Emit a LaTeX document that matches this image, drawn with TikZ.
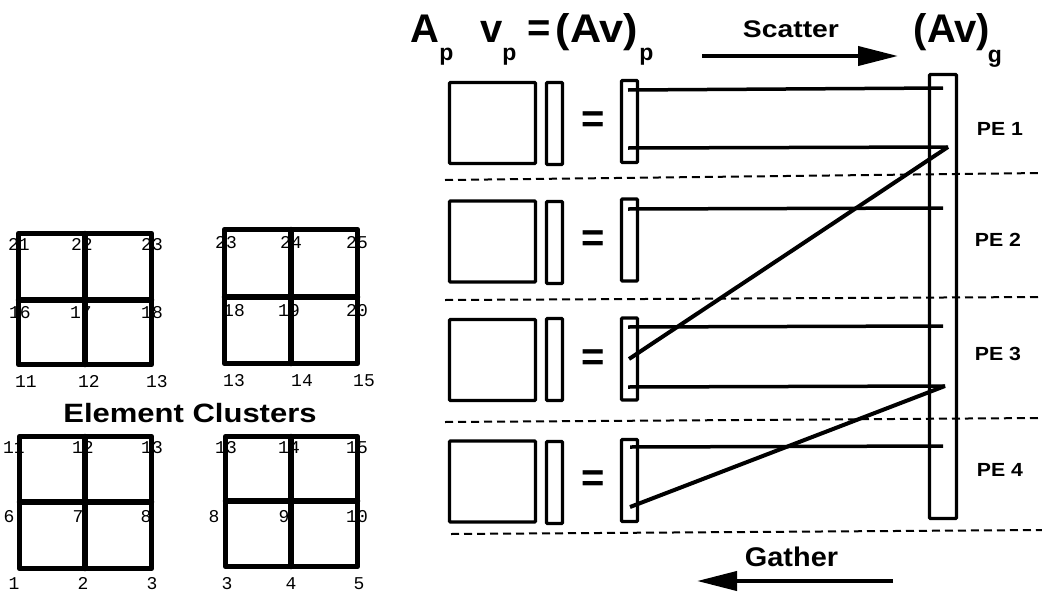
\documentclass[tikz,border=0pt]{standalone}
\usepackage{fontspec}
\usepackage{graphicx}
\setmainfont{Liberation Sans}
\newfontfamily\gridmono{Liberation Mono}
\usetikzlibrary{arrows.meta}
\begin{document}
\begin{tikzpicture}[x=1pt,y=-1pt,
  gridline/.style={line width=5.5pt, line join=round, line cap=round},
  lab/.style={font=\gridmono\fontsize{18}{18}\selectfont, inner sep=0pt, anchor=base},
  box/.style={draw, line width=3.2pt, inner sep=0pt, rounded corners=0.8pt},
  sqbox/.style={box, minimum width=86pt, minimum height=81pt},
  vbox/.style={box, minimum width=16pt, minimum height=82pt},
  conn/.style={line width=3.5pt},
  sepline/.style={line width=2pt, dash pattern=on 8pt off 5pt},
  big/.style={font=\bfseries\fontsize{40}{40}\selectfont, inner sep=0pt},
  subs/.style={font=\bfseries\fontsize{23}{23}\selectfont, inner sep=0pt},
  pe/.style={font=\bfseries\fontsize{19}{19}\selectfont, inner sep=0pt},
  bigarrow/.style={line width=4pt, -{Triangle[length=40pt,width=19pt]}}]
\useasboundingbox[fill=white] (0,0) rectangle (1042,592);

% ---------- element clusters: labels (base lines) ----------
\foreach \t/\x/\y [count=\i] in {21/19/250.5,22/82/250.5,23/152/250.5,16/20/318.5,17/81/318.5,18/152/318.5,11/26/387.5,12/89/387.5,13/157/387.5}
  \node[lab] (tl\i) at (\x,\y) {\t};
\foreach \t/\x/\y [count=\i] in {23/226/248.5,24/291/248.5,25/357/248.5,18/234/316.5,19/289/316.5,20/357/316.5,13/234/386.5,14/302/386.5,15/364/386.5}
  \node[lab] (tr\i) at (\x,\y) {\t};
\foreach \t/\x/\y [count=\i] in {11/14/453.5,12/83/453.5,13/152/453.5,6/9/522.5,7/78/522.5,8/146/522.5,1/14/589.5,2/83/589.5,3/152/589.5}
  \node[lab] (bl\i) at (\x,\y) {\t};
\foreach \t/\x/\y [count=\i] in {13/226/453.5,14/289/453.5,15/357/453.5,8/214/522.5,9/284/522.5,10/357/522.5,3/227/589.5,4/291/589.5,5/359/589.5}
  \node[lab] (br\i) at (\x,\y) {\t};

% ---------- element clusters: grids ----------
\draw[gridline] (18.5,233.5) rectangle (151.5,364.5) (85,233.5) -- (85,364.5) (18.5,300) -- (151.5,300);
\draw[gridline] (224.5,229.5) rectangle (357.5,363.5) (291,229.5) -- (291,363.5) (224.5,297) -- (357.5,297);
\draw[gridline] (19.5,436.5) rectangle (151.5,568.5) (85,436.5) -- (85,568.5) (19.5,502) -- (151.5,502);
\draw[gridline] (225.5,436.5) rectangle (357.5,566.5) (291,436.5) -- (291,566.5) (225.5,501) -- (357.5,501);

\node[anchor=base, inner sep=0pt, font=\bfseries\fontsize{26.5}{26.5}\selectfont] (ec) at (190,422) {\scalebox{1.17}[1]{Element Clusters}};

% ---------- title ----------
\node[big, anchor=base] (tA) at (425,42) {A};
\node[subs, anchor=base] (tAp) at (446.5,60) {p};
\node[big, anchor=base] (tv) at (492,42) {v};
\node[subs, anchor=base] (tvp) at (509.5,60) {p};
\node[big] (teq) at (539,31.5) {=};
\node[big, anchor=base] (tAv) at (597,42) {\scalebox{1.08}[1]{(Av)}};
\node[subs, anchor=base] (tAvp) at (646.5,60) {p};
\node[big, anchor=base] (tAvg) at (952,42) {(Av)};
\node[subs, anchor=base] (tg) at (995,62) {g};

\node[anchor=base, inner sep=0pt, font=\bfseries\fontsize{24}{24}\selectfont] (scat) at (791,37) {\scalebox{1.18}[1]{Scatter}};
\coordinate (sc0) at (702,56);
\coordinate (sc1) at (898,56);
\draw[bigarrow] (sc0) -- (sc1);

\node[anchor=base, inner sep=0pt, font=\bfseries\fontsize{27}{27}\selectfont] (gath) at (791.5,566) {\scalebox{1.07}[1]{Gather}};
\coordinate (ga0) at (893,581);
\coordinate (ga1) at (697,581);
\draw[bigarrow] (ga0) -- (ga1);

% ---------- rows ----------
\node[sqbox] (A1) at (492.5,123) {};
\node[vbox] (v1) at (554.5,123.5) {};
\node[big] (e1) at (593,122.5) {=};
\node[vbox] (r1) at (629.5,121.5) {};

\node[sqbox] (A2) at (492.5,241.5) {};
\node[vbox] (v2) at (554.5,242.5) {};
\node[big] (e2) at (593,241.5) {=};
\node[vbox] (r2) at (629.5,240) {};

\node[sqbox] (A3) at (492.5,360) {};
\node[vbox] (v3) at (554.5,359.5) {};
\node[big] (e3) at (593,360) {=};
\node[vbox] (r3) at (629.5,359) {};

\node[sqbox] (A4) at (492.5,481.5) {};
\node[vbox] (v4) at (554.5,482.5) {};
\node[big] (e4) at (593,481.5) {=};
\node[vbox] (r4) at (629.5,480.5) {};

% global vector
\node[box, minimum width=27pt, minimum height=444pt] (g) at (943,296.5) {};

% PE labels
\node[pe] (pe1) at (1000,128.5) {\scalebox{1.12}[1]{PE 1}};
\node[pe] (pe2) at (998,240) {\scalebox{1.12}[1]{PE 2}};
\node[pe] (pe3) at (998,353.5) {\scalebox{1.12}[1]{PE 3}};
\node[pe] (pe4) at (1000,470) {\scalebox{1.12}[1]{PE 4}};

% separators
\coordinate (s1a) at (445,180); \coordinate (s1b) at (1042,173);
\coordinate (s2a) at (445,300); \coordinate (s2b) at (1042,297);
\coordinate (s3a) at (445,422); \coordinate (s3b) at (1042,418);
\coordinate (s4a) at (451,534); \coordinate (s4b) at (1042,530);
\draw[sepline] (s1a) -- (s1b);
\draw[sepline] (s2a) -- (s2b);
\draw[sepline] (s3a) -- (s3b);
\draw[sepline] (s4a) -- (s4b);

% connectors
\coordinate (c1s) at (628,90);  \coordinate (c1e) at (943,88);
\coordinate (c2s) at (628,148); \coordinate (c2e) at (948,147);
\coordinate (c3s) at (628,209); \coordinate (c3e) at (943,208);
\coordinate (c4s) at (628,327); \coordinate (c4e) at (943,326);
\coordinate (c5s) at (628,387); \coordinate (c5e) at (945,386);
\coordinate (c6s) at (630,447); \coordinate (c6e) at (943,446);
\coordinate (d1s) at (629,359);
\coordinate (d2s) at (630,507);
\draw[conn] (c1s) -- (c1e);
\draw[conn] (c2s) -- (c2e);
\draw[conn] (c3s) -- (c3e);
\draw[conn] (c4s) -- (c4e);
\draw[conn] (c5s) -- (c5e);
\draw[conn] (c6s) -- (c6e);
\draw[conn, line width=4pt] (d1s) -- (c2e);
\draw[conn, line width=4pt] (d2s) -- (c5e);
\end{tikzpicture}
\end{document}
